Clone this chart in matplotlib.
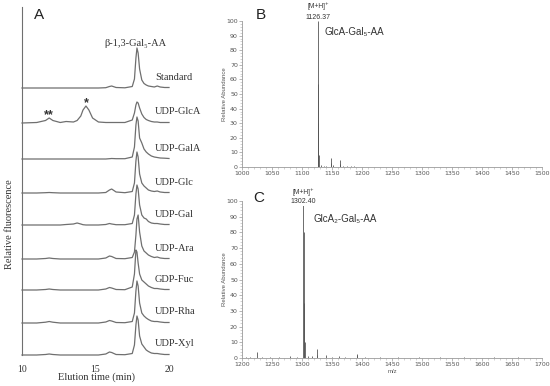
import matplotlib
matplotlib.use("Agg")
import matplotlib.pyplot as plt
from matplotlib.ticker import MultipleLocator

W, H = 550, 386
SERIF = ["Liberation Serif", "DejaVu Serif"]
SANS = ["Liberation Sans", "DejaVu Sans"]

# ---- panel A: HPLC traces (time in min, signal in arbitrary units) ----
TIME = [10.0, 11.0, 11.6, 11.85, 12.1, 12.6, 13.0, 13.5, 13.75, 14.0, 14.15, 14.35,
        14.55, 14.8, 15.2, 15.7, 15.95, 16.1, 16.4, 17.0, 17.5, 17.65, 17.75, 17.82,
        17.9, 18.0, 18.15, 18.3, 18.45, 18.6, 18.8, 19.0, 19.2, 19.4, 19.7, 20.0]

TRACE_NAMES = ["Standard", "UDP-GlcA", "UDP-GalA", "UDP-Glc", "UDP-Gal",
               "UDP-Ara", "GDP-Fuc", "UDP-Rha", "UDP-Xyl"]
TRACE_OFFSETS = [267, 232, 196, 162, 130, 96, 65, 32, 0]

standard = [0, 0, 0, 0, 0, 0, 0, 0, 0, 0, 0, 0, 0, 0, 0, 0.3, 1.5, 2, 0.5, 0.2,
            1.5, 9, 30, 40, 35, 19, 8, 4.5, 3, 2, 1.5, 1, 2, 1, 0.5, 0.5]
udp_glca = [0, 0.5, 2.5, 5, 2.5, 0.5, 1.5, 1, 2.5, 7, 13, 17, 13, 5, 1, 0.5, 0.5, 0.5,
            0.5, 0.5, 3, 10, 18, 21, 20, 15, 9, 5.5, 3.5, 2.5, 1.5, 1, 1, 0.5, 0.5, 0.5]
udp_gala = [0, 0, 0, 0, 0, 0, 0, 0, 0, 0, 0, 0, 0, 0, 0, 0, 0.3, 0.5, 0.3, 0.3,
            2, 12, 34, 42, 38, 21, 16, 10, 7, 5, 3, 2, 1.5, 1, 0.8, 0.5]
udp_glc = [0, 0, 0.3, 0.5, 0.3, 0, 0, 0, 0, 0, 0, 0, 0, 0, 0, 0.5, 3, 4, 1, 0.3,
           1.5, 10, 32, 41, 36, 19, 10, 7, 5, 3, 2, 1.5, 2, 1, 0.5, 0.5]
udp_gal = [0, 0, 0, 0, 0, 0, 0.5, 1, 2, 1, 0.3, 0, 0, 0, 0, 0.5, 1.5, 1, 0.3, 0.3,
           1.5, 10, 31, 40, 36, 20, 10, 7, 6, 3.5, 2, 1.5, 1.5, 1, 0.5, 0.5]
udp_ara = [0, 0, 0.5, 1, 0.5, 0, 0, 0, 0, 0, 0, 0, 0, 0, 0, 1, 3, 2.5, 0.5, 0.3,
           1.5, 7, 24, 40, 44, 27, 13, 8, 6, 4, 2.5, 1.5, 2, 1, 0.5, 0.5]
gdp_fuc = [0, 0, 0.5, 1, 0.5, 0, 0, 0, 0, 0, 0, 0, 0, 0, 0, 1, 2.5, 2, 0.5, 0.3,
           3, 16, 40, 38, 27, 16, 10, 8, 6, 4, 2.5, 1.5, 1.5, 1, 0.5, 0.5]
udp_rha = [0, 0, 0.8, 1.5, 0.8, 0, 0, 0, 0, 0, 0, 0, 0, 0, 0, 1, 2.5, 2, 0.5, 0.3,
           1.5, 10, 32, 42, 37, 20, 10, 7, 5, 3.5, 2, 1.5, 1.5, 1, 0.5, 0.5]
udp_xyl = [0, 0, 0.5, 1, 0.5, 0, 0, 0, 0, 0, 0, 0, 0, 0, 0, 1, 3, 2.5, 0.5, 0.3,
           1.5, 10, 30, 39, 35, 19, 11, 8, 5, 3.5, 2, 1.5, 1.5, 1, 0.5, 0.5]
TRACES = [standard, udp_glca, udp_gala, udp_glc, udp_gal,
          udp_ara, gdp_fuc, udp_rha, udp_xyl]

# ---- panel B / C: mass spectra (m/z, relative abundance) ----
B_MZ = [1126.37, 1126.9, 1127.4, 1128.4, 1131, 1136, 1140, 1148, 1149, 1152,
        1163, 1164, 1168, 1175, 1181, 1186]
B_AB = [100, 57, 30, 8, 1.5, 0.6, 1, 6.4, 3, 1.5, 4.6, 2, 1, 0.8, 0.6, 0.8]

C_MZ = [1206, 1214, 1225.5, 1233, 1247, 1262, 1280, 1291, 1302.40, 1302.9, 1303.4,
        1304.4, 1310, 1317, 1324.5, 1325.5, 1340, 1350, 1361, 1372, 1391, 1392,
        1405, 1430, 1460, 1495, 1530, 1570, 1620, 1660]
C_AB = [0.8, 0.6, 4, 0.8, 0.6, 0.8, 1.5, 0.8, 100, 80, 35, 10, 1, 1.5, 5.5, 2,
        2, 0.8, 1.5, 0.8, 2.5, 2, 0.6, 0.5, 0.5, 0.4, 0.5, 0.4, 0.4, 0.4]

LINE = "#6f6f6f"
GRAY = "#555555"

fig = plt.figure(figsize=(W / 100, H / 100), dpi=100)


def fig_box(left, top, right, bottom):
    return [left / W, 1 - bottom / H, (right - left) / W, (bottom - top) / H]


# ---------------- panel A ----------------
axA = fig.add_axes(fig_box(22, 7, 169, 355))
for name, off, vals in zip(TRACE_NAMES, TRACE_OFFSETS, TRACES):
    axA.plot(TIME, [v + off for v in vals], color=LINE, lw=0.9, clip_on=False)
    axA.text(19.05, off + 11, name, fontsize=7.5, family=SERIF, color="#333333",
             va="center", ha="left", clip_on=False)
axA.set_xlim(10, 20)
axA.set_ylim(0, 348)
for side in ("top", "right", "bottom"):
    axA.spines[side].set_visible(False)
axA.spines["left"].set_color(LINE)
axA.spines["left"].set_linewidth(0.8)
axA.set_yticks([])
axA.set_xticks([10, 15, 20])
axA.tick_params(axis="x", length=0, pad=7, labelsize=7, labelcolor="#333333")
for lab in axA.get_xticklabels():
    lab.set_family(SERIF)
axA.text(17.7, 312, "β-1,3-Gal₅-AA", fontsize=7.5, family=SERIF, color="#333333",
         ha="center", va="center")
axA.text(11.8, 240, "**", fontsize=9, family=SANS, color="#333333",
         ha="center", va="center", weight="bold")
axA.text(14.35, 252, "*", fontsize=9, family=SANS, color="#333333",
         ha="center", va="center", weight="bold")
fig.text(97 / W, 1 - 377 / H, "Elution time (min)", fontsize=7.5, family=SERIF,
         color="#333333", ha="center", va="center")
fig.text(10 / W, 1 - 224 / H, "Relative fluorescence", fontsize=7.5, family=SERIF,
         color="#333333", ha="center", va="center", rotation=90)


# ---------------- panels B and C ----------------
def style_ms(ax, xmin, xmax):
    ax.set_xlim(xmin, xmax)
    ax.set_ylim(0, 100)
    for side in ("top", "right"):
        ax.spines[side].set_visible(False)
    for side in ("left", "bottom"):
        ax.spines[side].set_color("#9a9a9a")
        ax.spines[side].set_linewidth(0.6)
    ax.xaxis.set_major_locator(MultipleLocator(50))
    ax.xaxis.set_minor_locator(MultipleLocator(10))
    ax.yaxis.set_major_locator(MultipleLocator(10))
    ax.yaxis.set_minor_locator(MultipleLocator(2))
    ax.tick_params(which="major", length=2, width=0.5, color="#9a9a9a",
                   labelsize=4.5, labelcolor=GRAY, pad=1)
    ax.tick_params(which="minor", length=1.2, width=0.4, color="#b0b0b0")
    ax.set_ylabel("Relative Abundance", fontsize=4.3, color=GRAY, family=SANS)
    ax.yaxis.set_label_coords(-0.05, 0.5)


axB = fig.add_axes(fig_box(242, 21, 542, 167))
axB.vlines(B_MZ, 0, B_AB, color=GRAY, lw=0.6)
style_ms(axB, 1000, 1500)
axB.text(1126.37, 110.3, "[M+H]⁺", fontsize=4.8, family=SANS, color="#333333",
         ha="center", va="center", clip_on=False)
axB.text(1126.37, 102.7, "1126.37", fontsize=5, family=SANS, color="#333333",
         ha="center", va="center", clip_on=False)
axB.text(1138, 92.5, "GlcA-Gal₅-AA", fontsize=7, family=SANS, color="#333333",
         ha="left", va="center")

axC = fig.add_axes(fig_box(242, 201, 542, 358))
axC.vlines(C_MZ, 0, C_AB, color=GRAY, lw=0.6)
style_ms(axC, 1200, 1700)
axC.set_xlabel("m/z", fontsize=4.3, color=GRAY, family=SANS, labelpad=1)
axC.text(1302.40, 105.7, "[M+H]⁺", fontsize=4.8, family=SANS, color="#333333",
         ha="center", va="center", clip_on=False)
axC.text(1302.40, 99.4, "1302.40", fontsize=5, family=SANS, color="#333333",
         ha="center", va="center", clip_on=False,
         bbox=dict(facecolor="white", edgecolor="none", pad=0.3))
axC.text(1320, 88.5, "GlcA₂-Gal₅-AA", fontsize=7, family=SANS, color="#333333",
         ha="left", va="center")

# panel letters
for letter, px, py in [("A", 39, 15), ("B", 261, 15), ("C", 259, 198)]:
    fig.text(px / W, 1 - py / H, letter, fontsize=11, family=SANS, color="#222222",
             ha="center", va="center")

fig.savefig("out.png", dpi=100)
